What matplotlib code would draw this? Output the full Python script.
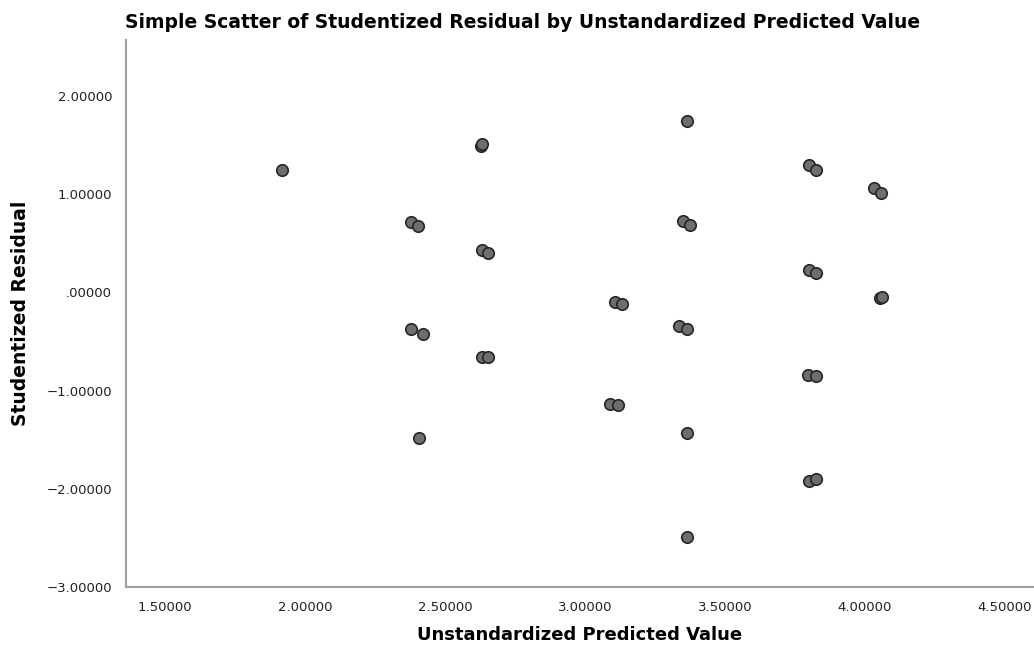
import matplotlib
matplotlib.use("Agg")
import matplotlib.pyplot as plt
from matplotlib.ticker import FuncFormatter

# predicted value (x) and studentized residual (y)
predicted = [1.917, 2.379, 2.404, 2.379, 2.421, 2.407,
             2.628, 2.634, 2.632, 2.654, 2.632, 2.654,
             3.107, 3.133, 3.089, 3.117,
             3.350, 3.375, 3.364, 3.337, 3.366, 3.363, 3.364,
             3.800, 3.827, 3.800, 3.827, 3.798, 3.825, 3.800, 3.827,
             4.032, 4.057, 4.054, 4.060]
residual = [1.245, 0.713, 0.672, -0.377, -0.428, -1.487,
            1.490, 1.507, 0.428, 0.397, -0.662, -0.662,
            -0.099, -0.122, -1.140, -1.150,
            0.724, 0.690, 1.745, -0.343, -0.370, -1.430, -2.488,
            1.296, 1.245, 0.227, 0.193, -0.845, -0.852, -1.920, -1.900,
            1.066, 1.015, -0.054, -0.050]

x_ticks = [1.5, 2.0, 2.5, 3.0, 3.5, 4.0, 4.5]
y_ticks = [2.0, 1.0, 0.0, -1.0, -2.0, -3.0]


def spss_fmt(v, pos=None):
    # SPSS style: 5 decimals, no leading zero for 0
    s = "%.5f" % v
    if s.startswith("0."):
        s = s[1:]
    elif s.startswith("-0."):
        s = "-" + s[2:]
    return s.replace("-", "\u2212")


fig = plt.figure(figsize=(10.34, 6.52), dpi=100)
ax = fig.add_axes([126 / 1034, 1 - 587 / 652, 1 - 126 / 1034, (587 - 40) / 652])

ax.scatter(predicted, residual, s=68, facecolor="#6e6e6e", edgecolor="#262626",
           linewidths=1.2, zorder=3)

ax.set_xlim(1.361, 4.604)
ax.set_ylim(-3.0, 2.57)
ax.set_xticks(x_ticks)
ax.set_yticks(y_ticks)
ax.xaxis.set_major_formatter(FuncFormatter(spss_fmt))
ax.yaxis.set_major_formatter(FuncFormatter(spss_fmt))
ax.tick_params(length=0, labelsize=9.5, colors="#222222", pad=10)

for side in ["top", "right"]:
    ax.spines[side].set_visible(False)
for side in ["left", "bottom"]:
    ax.spines[side].set_color("#a0a0a0")
    ax.spines[side].set_linewidth(1.5)

ax.set_xlabel("Unstandardized Predicted Value", fontsize=13, fontweight="bold", labelpad=9)
ax.set_ylabel("Studentized Residual", fontsize=13.5, fontweight="bold", labelpad=12)
fig.text(523 / 1034, 1 - 23 / 652, "Simple Scatter of Studentized Residual by Unstandardized Predicted Value",
         ha="center", va="center", fontsize=13.5, fontweight="bold")

fig.savefig("out.png", dpi=100)
